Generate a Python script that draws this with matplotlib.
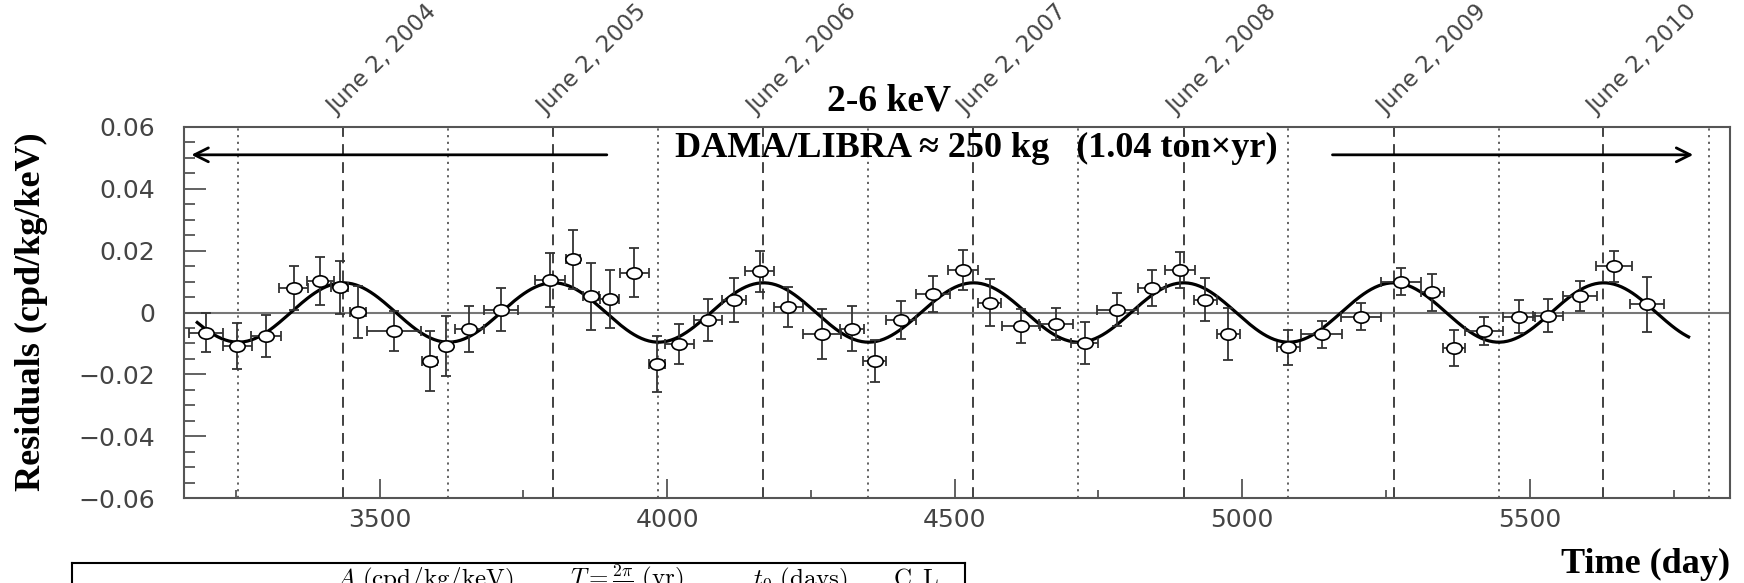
#!/usr/bin/env python3
# -*- coding: UTF-8 -*-
"""
    DAMA/LIBRA 2-6 keV residual rate vs time, with annual modulation fit
"""

import numpy as np
import matplotlib
matplotlib.use('Agg')
import matplotlib.pyplot as plt
from matplotlib.path import Path
from matplotlib.transforms import Affine2D
from matplotlib.lines import Line2D

# Data #######################################################################
day = [3198, 3253, 3302, 3351, 3397, 3431, 3462, 3525, 3587, 3616,
       3656, 3711, 3797, 3837, 3867, 3900, 3943, 3983, 4021, 4071,
       4116, 4161, 4211, 4269, 4321, 4361, 4407, 4462, 4515, 4561,
       4615, 4676, 4726, 4783, 4843, 4892, 4936, 4976, 5080, 5138,
       5206, 5276, 5330, 5368, 5421, 5481, 5531, 5587, 5646, 5704]
resid = [-0.0065, -0.0108, -0.0077, 0.0078, 0.0103, 0.0081, 0.0002, -0.0059, -0.0158, -0.0108,
         -0.0053, 0.0009, 0.0106, 0.0172, 0.0052, 0.0043, 0.0129, -0.0167, -0.0101, -0.0024,
         0.0041, 0.0133, 0.0019, -0.0070, -0.0053, -0.0156, -0.0024, 0.0060, 0.0138, 0.0032,
         -0.0043, -0.0038, -0.0099, 0.0009, 0.0079, 0.0138, 0.0041, -0.0070, -0.0113, -0.0070,
         -0.0013, 0.0100, 0.0066, -0.0115, -0.0059, -0.0013, -0.0010, 0.0054, 0.0149, 0.0027]
day_err = [29, 26, 26, 25, 23, 15, 14, 47, 13, 10,
           25, 30, 26, 12, 14, 17, 25, 14, 25, 25,
           21, 25, 25, 33, 21, 20, 26, 30, 26, 20,
           33, 30, 23, 35, 25, 26, 20, 20, 20, 36,
           35, 35, 20, 19, 33, 28, 26, 30, 31, 29]
resid_err = [0.0064, 0.0075, 0.0068, 0.0071, 0.0078, 0.0085, 0.0083, 0.0065, 0.0097, 0.0096,
             0.0075, 0.0069, 0.0087, 0.0096, 0.0108, 0.0093, 0.0080, 0.0090, 0.0065, 0.0067,
             0.0072, 0.0066, 0.0065, 0.0082, 0.0073, 0.0068, 0.0062, 0.0057, 0.0065, 0.0075,
             0.0055, 0.0051, 0.0067, 0.0054, 0.0057, 0.0058, 0.0070, 0.0085, 0.0058, 0.0044,
             0.0043, 0.0045, 0.0060, 0.0058, 0.0045, 0.0054, 0.0053, 0.0048, 0.0051, 0.0089]

# Fit: A cos(2pi/T (t - t0))
fit_A = 0.0096        # cpd/kg/keV
fit_T = 365.25        # days
fit_t0 = 3437         # day of June 2, 2004
fit_range = (3183, 5776)

june2_days = [3437, 3802, 4167, 4532, 4898, 5263, 5628]
june2_labels = ['June 2, 2004', 'June 2, 2005', 'June 2, 2006', 'June 2, 2007',
                'June 2, 2008', 'June 2, 2009', 'June 2, 2010']
half_days = [3254, 3619, 3985, 4350, 4715, 5080, 5446, 5811]

xticks = [3500, 4000, 4500, 5000, 5500]
yticks = [-0.06, -0.04, -0.02, 0.0, 0.02, 0.04, 0.06]
ytick_labels = ['\u22120.06', '\u22120.04', '\u22120.02', '0', '0.02', '0.04', '0.06']

table_cols = [r'$A\ \mathrm{(cpd/kg/keV)}$', r'$T=\frac{2\pi}{\omega}\ \mathrm{(yr)}$',
              r'$t_0\ \mathrm{(days)}$', r'$\mathrm{C.L.}$']

# Figure setup ###############################################################
W, H = 1744, 583
fig = plt.figure(figsize=(W/100, H/100), dpi=100)
plt.rcParams['mathtext.fontset'] = 'cm'

def fx(px): return px/W
def fy(py): return 1 - py/H

ax = fig.add_axes([fx(184), fy(498), fx(1730)-fx(184), fy(127)-fy(498)])
ax.set_xlim(3160, 5848)
ax.set_ylim(-0.06, 0.06)

spine_c = '#555555'
for s in ax.spines.values():
    s.set_color(spine_c)
    s.set_linewidth(1.5)

# guide lines
for d in june2_days:
    ax.axvline(d, color='#333333', lw=1.3, ls=(0, (6, 4)), zorder=1)
for d in half_days:
    ax.axvline(d, color='#555555', lw=1.3, ls=(0, (1.2, 2.5)), zorder=1)
ax.axhline(0, color='#777777', lw=1.5, zorder=1)

# fit curve
t = np.linspace(fit_range[0], fit_range[1], 800)
ax.plot(t, fit_A*np.cos(2*np.pi/fit_T*(t - fit_t0)), color='black', lw=2.3, zorder=3)

# data with errors
ax.errorbar(day, resid, xerr=day_err, yerr=resid_err, fmt='none',
            ecolor='#333333', elinewidth=1.3, capsize=3.5, capthick=1.3, zorder=4)
ell = Path.unit_circle().transformed(Affine2D().scale(1.35, 1.0))
ax.plot(day, resid, ls='none', marker=ell, ms=11, mfc='white', mec='black', mew=1.2, zorder=5)

# ticks
ax.set_xticks(xticks)
ax.set_xticks(np.arange(3250, 5848, 250), minor=True)
ax.set_yticks(yticks)
ax.set_yticklabels(ytick_labels)
ax.set_yticks(np.arange(-0.06, 0.0601, 0.005), minor=True)
ax.tick_params(axis='both', which='both', direction='in', colors=spine_c,
               labelcolor='#444444', labelsize=18, width=1.3,
               top=False, right=False)
ax.tick_params(axis='y', which='major', length=16, pad=21)
ax.tick_params(axis='y', which='minor', length=8)
ax.tick_params(axis='x', which='major', length=14, pad=7)
ax.tick_params(axis='x', which='minor', length=6)

# June labels on top
for d, lab in zip(june2_days, june2_labels):
    ax.annotate(lab, xy=(d, 0.06), xytext=(-3, 6), textcoords='offset points',
                rotation=45, rotation_mode='anchor', ha='left', va='bottom',
                fontsize=16.5, color='#444444', annotation_clip=False)

# headers and arrows
serif = 'Liberation Serif'
ax.text(4385, 0.0683, '2-6 keV', ha='center', va='center', fontsize=27,
        fontweight='bold', family=serif, clip_on=False)
ax.text(4538, 0.053, 'DAMA/LIBRA \u2248 250 kg   (1.04 ton\u00d7yr)', ha='center',
        va='center', fontsize=26, fontweight='bold', family=serif)
ax.annotate('', xy=(3168, 0.051), xytext=(3900, 0.051),
            arrowprops=dict(arrowstyle='->', color='black', lw=2, mutation_scale=25))
ax.annotate('', xy=(5789, 0.051), xytext=(5152, 0.051),
            arrowprops=dict(arrowstyle='->', color='black', lw=2, mutation_scale=25))

# axis titles
fig.text(fx(31), fy(312), 'Residuals (cpd/kg/keV)', rotation=90, ha='center',
         va='center', fontsize=26, fontweight='bold', family=serif)
fig.text(fx(1730), fy(564), 'Time (day)', ha='right', va='center', fontsize=26,
         fontweight='bold', family=serif)

# cut-off table under the plot
fig.add_artist(Line2D([fx(72), fx(965)], [fy(563), fy(563)], color='black', lw=1.5))
fig.add_artist(Line2D([fx(72), fx(72)], [fy(563), 0], color='black', lw=1.5))
fig.add_artist(Line2D([fx(965), fx(965)], [fy(563), 0], color='black', lw=1.5))
for xp, txt in zip([336, 570, 753, 893], table_cols):
    fig.text(fx(xp), fy(586), txt, ha='left', va='baseline', fontsize=18)

fig.savefig('out.png', dpi=100)
